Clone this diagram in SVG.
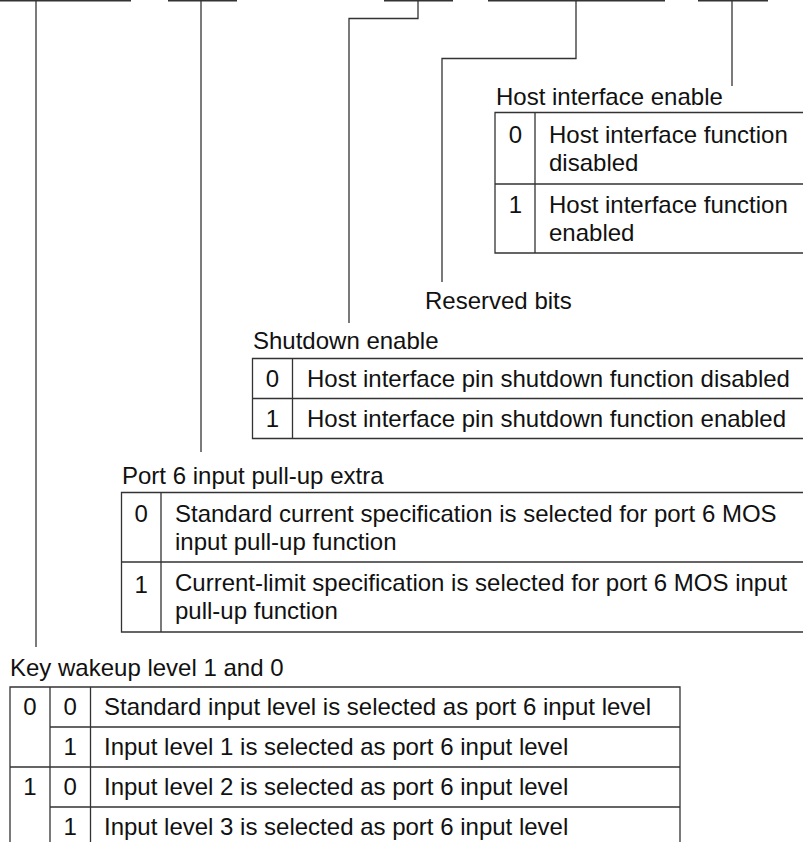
<svg xmlns="http://www.w3.org/2000/svg" width="803" height="842" viewBox="0 0 803 842">
<style>
  .ln{stroke:#333;stroke-width:1.3;fill:none}
  .tb{stroke:#333;stroke-width:1.3;fill:none}
  text{font-family:"Liberation Sans",Arial,Helvetica,sans-serif;font-size:24px;fill:#111}
  .c{text-anchor:middle}
</style>
<rect width="803" height="842" fill="#fff"/>
<g id="bitfields">
  <line class="ln" x1="0" y1="0.75" x2="131" y2="0.75"/>
  <line class="ln" x1="168" y1="0.75" x2="237" y2="0.75"/>
  <line class="ln" x1="384" y1="0.75" x2="453" y2="0.75"/>
  <line class="ln" x1="488" y1="0.75" x2="665" y2="0.75"/>
  <line class="ln" x1="698" y1="0.75" x2="768" y2="0.75"/>
</g>
<g id="connectors">
  <polyline class="ln" points="36,0 36,647"/>
  <polyline class="ln" points="201,0 201,452"/>
  <polyline class="ln" points="418,0 418,18.5 349,18.5 349,323"/>
  <polyline class="ln" points="576,0 576,58.5 442,58.5 442,282"/>
  <polyline class="ln" points="732,0 732,86"/>
</g>
<g id="host-interface-enable">
  <text x="496" y="105">Host interface enable</text>
  <path class="tb" d="M803,112.5 H495 V253 H803 M535,112.5 V253 M495,184 H803"/>
  <text class="c" x="515.5" y="143">0</text>
  <text x="549" y="143">Host interface function</text>
  <text x="549" y="171">disabled</text>
  <text class="c" x="515.5" y="213">1</text>
  <text x="549" y="213">Host interface function</text>
  <text x="549" y="241">enabled</text>
</g>
<g id="reserved-bits">
  <text x="425" y="309">Reserved bits</text>
</g>
<g id="shutdown-enable">
  <text x="253" y="349">Shutdown enable</text>
  <path class="tb" d="M803,358.5 H252.5 V438.5 H803 M292.5,358.5 V438.5 M252.5,398.5 H803"/>
  <text class="c" x="272.5" y="387">0</text>
  <text x="307" y="387">Host interface pin shutdown function disabled</text>
  <text class="c" x="272.5" y="427">1</text>
  <text x="307" y="427">Host interface pin shutdown function enabled</text>
</g>
<g id="port6-pullup-extra">
  <text x="122" y="484">Port 6 input pull-up extra</text>
  <path class="tb" d="M803,492.5 H121.5 V632 H803 M161,492.5 V632 M121.5,562 H803"/>
  <text class="c" x="141.3" y="522">0</text>
  <text x="175" y="522">Standard current specification is selected for port 6 MOS</text>
  <text x="175" y="550">input pull-up function</text>
  <text class="c" x="141.3" y="593">1</text>
  <text x="175" y="591">Current-limit specification is selected for port 6 MOS input</text>
  <text x="175" y="619">pull-up function</text>
</g>
<g id="key-wakeup-level">
  <text x="10" y="676">Key wakeup level 1 and 0</text>
  <path class="tb" d="M10,850 V687 H680 V850 M50,687 V850 M90.5,687 V850 M50,727 H680 M10,767 H680 M50,807 H680"/>
  <text class="c" x="30" y="715">0</text>
  <text class="c" x="70.3" y="715">0</text>
  <text x="104" y="715">Standard input level is selected as port 6 input level</text>
  <text class="c" x="70.3" y="755">1</text>
  <text x="104" y="755">Input level 1 is selected as port 6 input level</text>
  <text class="c" x="30" y="795">1</text>
  <text class="c" x="70.3" y="795">0</text>
  <text x="104" y="795">Input level 2 is selected as port 6 input level</text>
  <text class="c" x="70.3" y="835">1</text>
  <text x="104" y="835">Input level 3 is selected as port 6 input level</text>
</g>
</svg>
